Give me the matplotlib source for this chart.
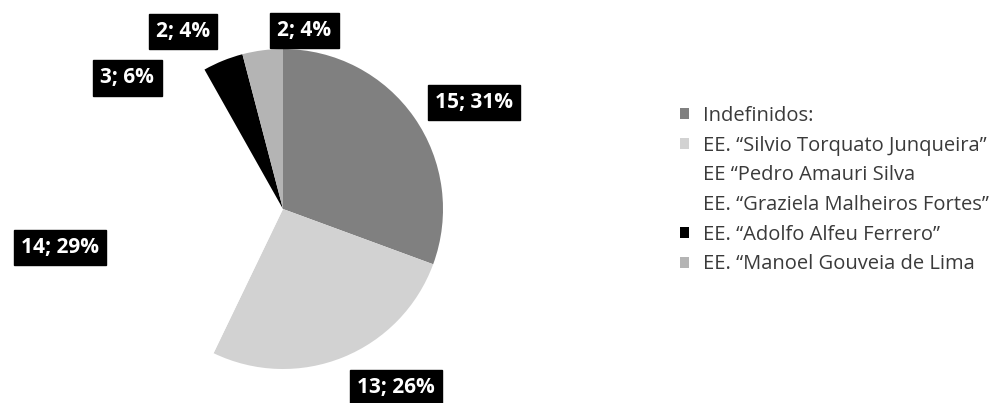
import numpy as np
import matplotlib
matplotlib.use("Agg")
import matplotlib.pyplot as plt

# data (legend order)
names = ['Indefinidos:',
         'EE. “Silvio Torquato Junqueira”',
         'EE “Pedro Amauri Silva',
         'EE. “Graziela Malheiros Fortes”',
         'EE. “Adolfo Alfeu Ferrero”',
         'EE. “Manoel Gouveia de Lima']
counts = [15, 13, 14, 3, 2, 2]
percents = [31, 26, 29, 6, 4, 4]

colors = ['#808080', '#d2d2d2', '#ffffff', '#ffffff', '#000000', '#b4b4b4']
# nudges (px) from the default label anchor, to match the spread-out labels
label_nudge = [(27, -8), (38, 7), (-28, 6), (-26, -21), (-25, -8), (47, -20)]

W, H = 1008, 403
fig = plt.figure(figsize=(W / 100, H / 100), dpi=100)
ax = fig.add_axes([0, 0, 1, 1])

cx, cy, R = 283, 194, 160
wedges, _ = ax.pie(counts, colors=colors, startangle=90, counterclock=False,
                   center=(cx, cy), radius=R, frame=True,
                   wedgeprops=dict(linewidth=0))
ax.set_xlim(0, W)
ax.set_ylim(0, H)
ax.axis('off')

for i, w in enumerate(wedges):
    mid = np.deg2rad((w.theta1 + w.theta2) / 2)
    x = cx + 1.25 * R * np.cos(mid) + label_nudge[i][0]
    y = cy + 1.25 * R * np.sin(mid) + label_nudge[i][1]
    ax.text(x, y, '%d; %d%%' % (counts[i], percents[i]), color='white',
            fontsize=15, fontweight='bold', family='Open Sans',
            ha='center', va='center',
            bbox=dict(boxstyle='square,pad=0.35', fc='black', ec='black'))

leg = ax.legend(wedges, names, loc='upper left',
                bbox_to_anchor=(672 / W, 1 - 98 / H), frameon=False,
                prop={'family': 'Open Sans', 'size': 14.5},
                handlelength=0.45, handleheight=0.45, handletextpad=0.7,
                labelspacing=0.48, borderaxespad=0)
for t in leg.get_texts():
    t.set_color('#3a3a3a')

fig.savefig('out.png', dpi=100)
